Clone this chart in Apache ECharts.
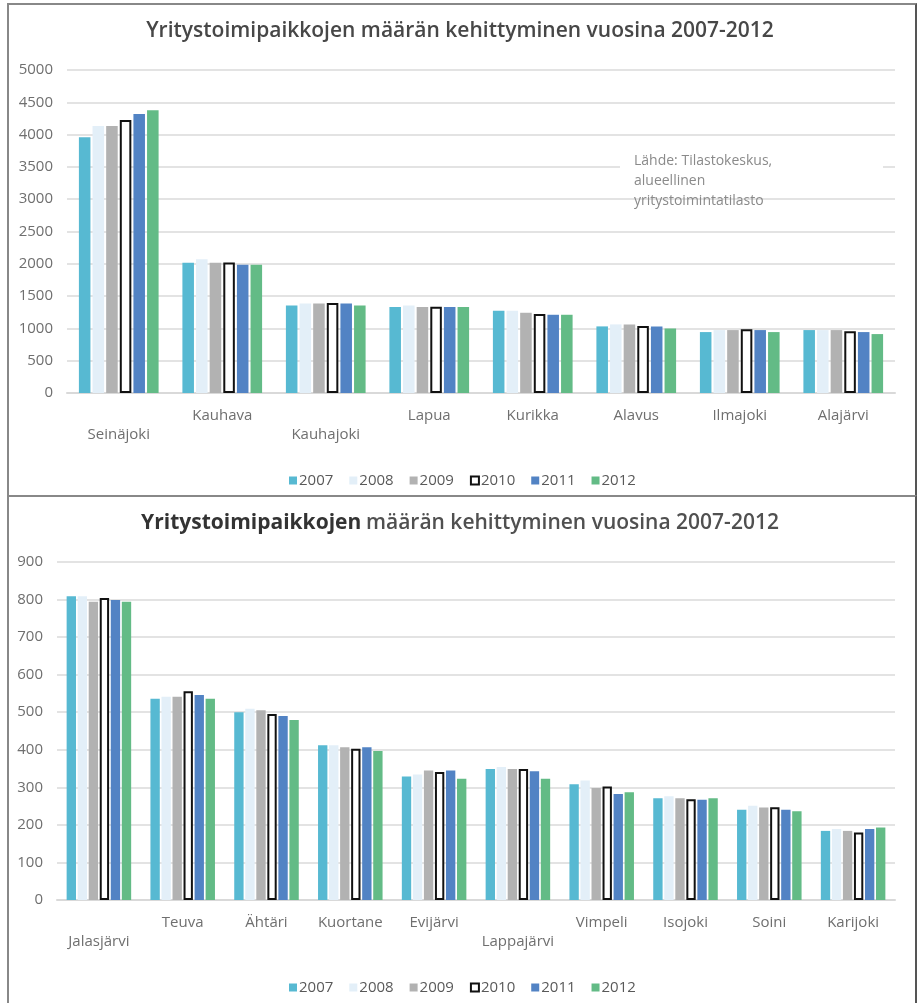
<!DOCTYPE html>
<html><head><meta charset="utf-8">
<script src="https://cdn.jsdelivr.net/npm/echarts@6/dist/echarts.min.js"></script>
<style>
html,body{margin:0;padding:0;background:#fff;width:920px;height:1003px;overflow:hidden;}
#c1{position:absolute;left:0;top:0;width:920px;height:496px;}
#c2{position:absolute;left:0;top:496px;width:920px;height:507px;}
.frame{position:absolute;box-sizing:border-box;border:2px solid #888;border-right-color:#555;pointer-events:none;}
</style></head><body>
<div id="c1"></div><div id="c2"></div>
<div class="frame" style="left:7px;top:3px;width:910px;height:494px;"></div>
<div class="frame" style="left:7px;top:495px;width:910px;height:520px;"></div>
<script>
const years = ['2007','2008','2009','2010','2011','2012'];
const title = 'Yritystoimipaikkojen määrän kehittyminen vuosina 2007-2012';
const sourceText = 'Lähde: Tilastokeskus,\nalueellinen\nyritystoimintatilasto';

const cats1 = ['Seinäjoki','Kauhava','Kauhajoki','Lapua','Kurikka','Alavus','Ilmajoki','Alajärvi'];
const v1_2007 = [3960, 2015, 1356, 1330, 1273, 1031, 943, 974];
const v1_2008 = [4134, 2072, 1387, 1356, 1273, 1062, 974, 974];
const v1_2009 = [4134, 2015, 1387, 1330, 1242, 1062, 974, 974];
const v1_2010 = [4227, 2020, 1392, 1335, 1222, 1036, 985, 954];
const v1_2011 = [4320, 1985, 1387, 1330, 1211, 1031, 974, 943];
const v1_2012 = [4376, 1985, 1356, 1330, 1211, 1000, 943, 912];
const ticks1 = [0, 500, 1000, 1500, 2000, 2500, 3000, 3500, 4000, 4500, 5000];

const cats2 = ['Jalasjärvi','Teuva','Ähtäri','Kuortane','Evijärvi','Lappajärvi','Vimpeli','Isojoki','Soini','Karijoki'];
const v2_2007 = [809, 536, 500, 412, 329, 349, 308, 271, 240, 184];
const v2_2008 = [809, 541, 509, 412, 334, 354, 318, 276, 251, 189];
const v2_2009 = [794, 541, 505, 407, 345, 349, 298, 271, 246, 184];
const v2_2010 = [804, 556, 495, 403, 341, 349, 302, 268, 247, 180];
const v2_2011 = [799, 546, 490, 407, 345, 343, 282, 267, 240, 189];
const v2_2012 = [794, 536, 479, 397, 323, 323, 287, 271, 236, 193];
const ticks2 = [0, 100, 200, 300, 400, 500, 600, 700, 800, 900];

const staggered1 = ['Seinäjoki','Kauhajoki'];
const staggered2 = ['Jalasjärvi','Lappajärvi'];

const FONT = '"Open Sans"';
const styles = [
  {color:'#57b9d2'},
  {color:'#e3eff8'},
  {color:'#b2b2b2'},
  {color:'#ffffff', borderColor:'#111', borderWidth:2},
  {color:'#5283c4'},
  {color:'#63bb86'}
];

function build(cats, vals, ticks, staggered, g, titleOpt, legendTop, extraGraphic){
  return {
    animation:false,
    textStyle:{fontFamily:FONT},
    title: titleOpt,
    legend:{
      top: legendTop, left:284, itemWidth:8, itemHeight:8, itemGap:16,
      icon:'rect',
      textStyle:{fontFamily:FONT, fontSize:15, color:'#595959', padding:[0,0,0,-3]},
      data: years
    },
    grid: g,
    xAxis:{
      type:'category', data:cats,
      axisTick:{show:false},
      axisLine:{lineStyle:{color:'#d9d9d9', width:2}},
      axisLabel:{
        interval:0, fontFamily:FONT, fontSize:15, color:'#6f6f6f', margin:13, lineHeight:19,
        formatter:(v)=> staggered.includes(v) ? '\n'+v : v
      }
    },
    yAxis:{
      type:'value', min:ticks[0], max:ticks[ticks.length-1], interval:ticks[1]-ticks[0],
      axisLine:{show:false}, axisTick:{show:false},
      splitLine:{lineStyle:{color:'#e3e3e3', width:2}},
      axisLabel:{fontFamily:FONT, fontSize:15, color:'#6f6f6f', margin:14, formatter:(v)=>String(v)}
    },
    graphic: extraGraphic || [],
    series: years.map((y,i)=>({
      name:y, type:'bar', data:vals[i],
      barGap:'18%', barCategoryGap:'23%',
      itemStyle: styles[i]
    }))
  };
}

const c1 = echarts.init(document.getElementById('c1'), null, {renderer:'canvas'});
c1.setOption(build(cats1, [v1_2007,v1_2008,v1_2009,v1_2010,v1_2011,v1_2012], ticks1, staggered1,
  {left:67, right:25, top:70, bottom:103},
  {text:title, left:'center', top:16, textStyle:{fontFamily:FONT, fontSize:21, fontWeight:600, color:'#474747'}},
  468,
  [
    {type:'rect', z:100, shape:{x:620, y:150, width:263, height:40}, style:{fill:'#fff'}},
    {type:'text', z:101, left:634, top:151, style:{text:sourceText, fontFamily:FONT, fontSize:14, lineHeight:20, fill:'#8a8a8a'}}
  ]
));

const c2 = echarts.init(document.getElementById('c2'), null, {renderer:'canvas'});
c2.setOption(build(cats2, [v2_2007,v2_2008,v2_2009,v2_2010,v2_2011,v2_2012], ticks2, staggered2,
  {left:57, right:25, top:66, bottom:103},
  {text:'{b|Yritystoimipaikkojen} {n|määrän kehittyminen vuosina 2007-2012}', left:'center', top:12,
   textStyle:{rich:{
     b:{fontFamily:FONT, fontSize:21, fontWeight:700, color:'#333333'},
     n:{fontFamily:FONT, fontSize:21, fontWeight:600, color:'#505050'}
   }}},
  479
));
</script>
</body></html>
